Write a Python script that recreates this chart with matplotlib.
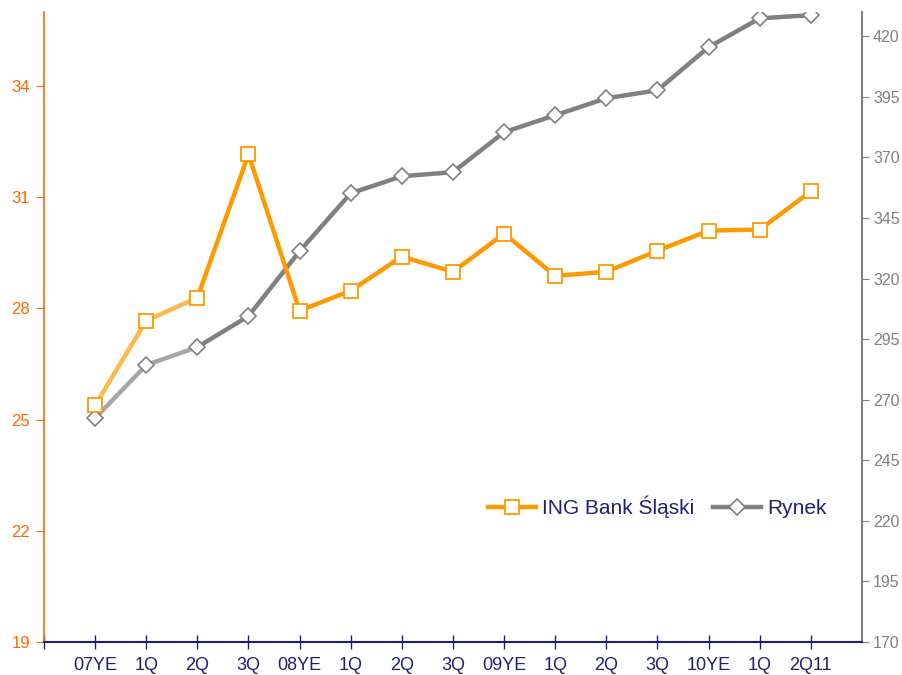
import matplotlib
matplotlib.use("Agg")
import matplotlib.pyplot as plt
from matplotlib.lines import Line2D

plt.rcParams['font.family'] = ['Liberation Sans', 'DejaVu Sans']

# dane
kategorie = ["07YE", "1Q", "2Q", "3Q", "08YE", "1Q", "2Q", "3Q",
             "09YE", "1Q", "2Q", "3Q", "10YE", "1Q", "2Q11"]
ing = [25.39, 27.67, 28.29, 32.16, 27.94, 28.48, 29.40, 28.99,
       30.02, 28.88, 28.99, 29.56, 30.10, 30.13, 31.16]
rynek = [262.4, 284.3, 291.7, 304.5, 331.3, 355.2, 362.2, 363.9,
         380.4, 387.4, 394.4, 397.7, 415.5, 427.4, 428.7]
lewe_ticki = [19, 22, 25, 28, 31, 34]
prawe_ticki = [170, 195, 220, 245, 270, 295, 320, 345, 370, 395, 420]

POMARANCZ = "#FF9900"
POMARANCZ_JASNY = "#FFB84D"
SZARY = "#808080"
SZARY_JASNY = "#A6A6A6"
GRANAT = "#1F1F78"
OS_LEWA = "#FF6600"

fig, ax = plt.subplots(figsize=(9.03, 6.75), dpi=100)
fig.subplots_adjust(left=44/903, right=862/903, top=1-12/675, bottom=1-642/675)
ax2 = ax.twinx()

x = list(range(len(kategorie)))

# Rynek (prawa os)
ax2.plot(x[:3], rynek[:3], color=SZARY_JASNY, lw=3.2, solid_capstyle='round')
ax2.plot(x[2:], rynek[2:], color=SZARY, lw=3.2)
ax2.plot(x, rynek, ls='none', marker='D', ms=8.5, mfc='white', mec=SZARY, mew=1.2)

# ING (lewa os)
ax.plot(x[:3], ing[:3], color=POMARANCZ_JASNY, lw=3.2)
ax.plot(x[2:], ing[2:], color=POMARANCZ, lw=3.2)
ax.plot(x, ing, ls='none', marker='s', ms=10, mfc='white', mec=POMARANCZ, mew=1.3)

ax.set_zorder(ax2.get_zorder() + 1)
ax.patch.set_visible(False)

ax.set_xlim(-1, 15)
ax.set_ylim(19, 36)
ax2.set_ylim(170, 430)

ax.set_xticks(range(-1, 15))
ax.set_xticklabels([""] + kategorie, fontsize=13, color=GRANAT)
ax.tick_params(axis='x', direction='inout', length=10, width=1, color=GRANAT, pad=6)

ax.set_yticks(lewe_ticki)
ax.tick_params(axis='y', direction='out', length=6, color=OS_LEWA,
               labelcolor=OS_LEWA, labelsize=12, pad=4)
ax2.set_yticks(prawe_ticki)
ax2.tick_params(axis='y', direction='out', length=5, color=SZARY,
                labelcolor=SZARY, labelsize=11.5, pad=3)

for a in (ax, ax2):
    a.spines['top'].set_visible(False)
ax.spines['right'].set_visible(False)
ax.spines['left'].set_color(OS_LEWA)
ax.spines['left'].set_linewidth(1.2)
ax.spines['bottom'].set_color(GRANAT)
ax.spines['bottom'].set_linewidth(1.5)
ax2.spines['left'].set_visible(False)
ax2.spines['bottom'].set_visible(False)
ax2.spines['right'].set_color(SZARY)
ax2.spines['right'].set_linewidth(1.5)

uchwyty = [
    Line2D([], [], color=POMARANCZ, lw=3.2, marker='s', ms=10, mfc='white', mec=POMARANCZ, mew=1.3),
    Line2D([], [], color=SZARY, lw=3.2, marker='D', ms=8.5, mfc='white', mec=SZARY, mew=1.2),
]
leg = ax.legend(uchwyty, ["ING Bank Śląski", "Rynek"], loc='center',
                bbox_to_anchor=(0.75, 0.214), ncol=2, frameon=False,
                fontsize=15, handlelength=2.3, handletextpad=0.3, columnspacing=0.9)
for t in leg.get_texts():
    t.set_color(GRANAT)

fig.savefig("out.png", dpi=100)
